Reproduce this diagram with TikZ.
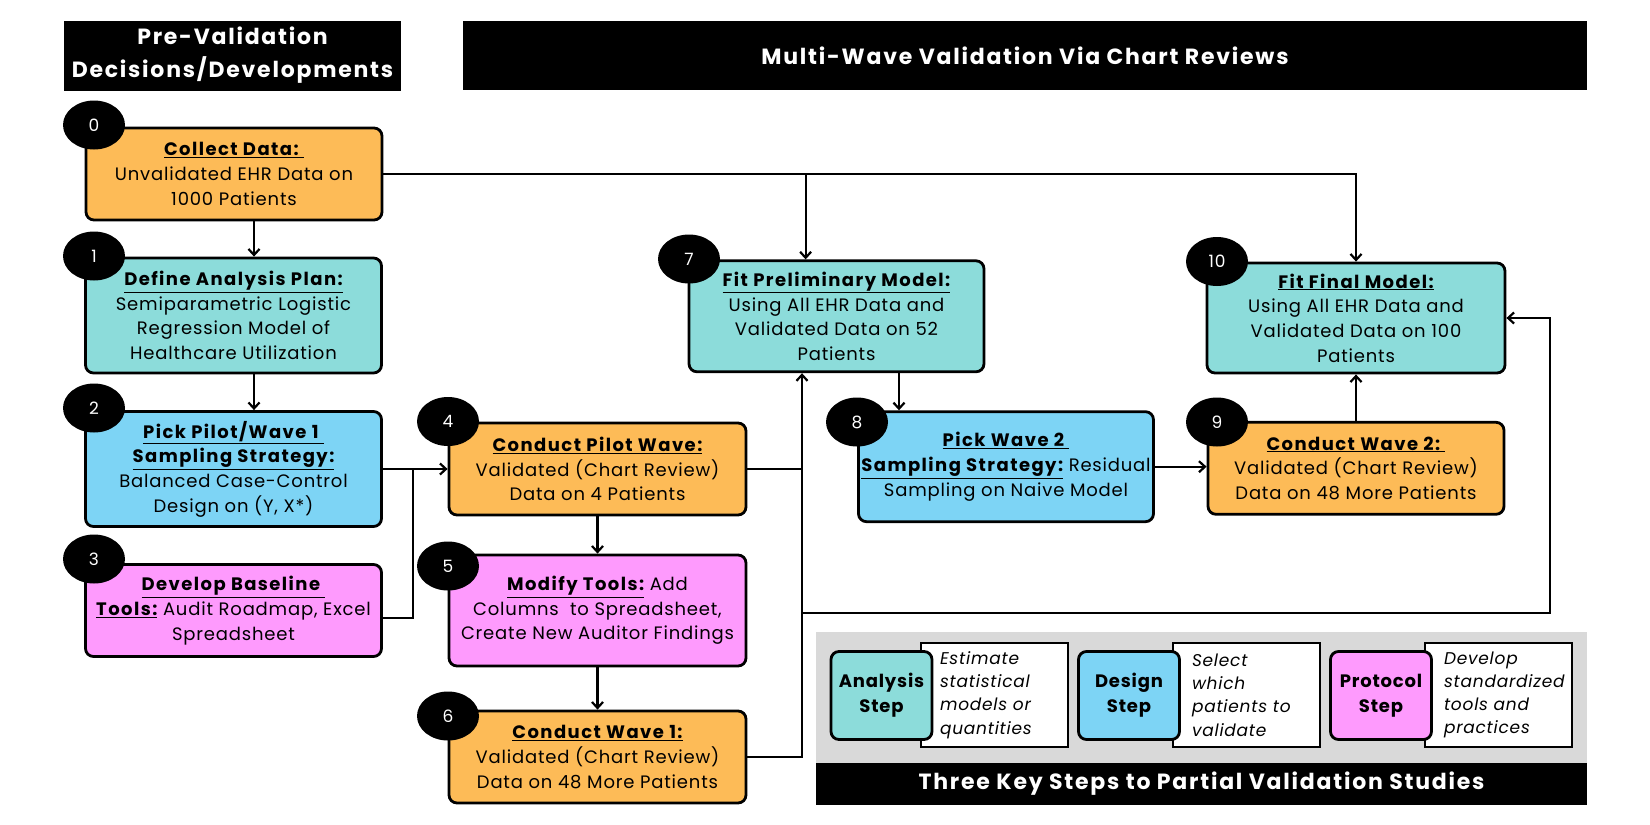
\documentclass[tikz,border=0pt]{standalone}
\usepackage{fontspec}
\setmainfont{Poppins}[LetterSpace=4.5]
\newfontfamily\widefont{Poppins}[LetterSpace=8]
\usetikzlibrary{shapes.geometric}
\usetikzlibrary{positioning}
\usetikzlibrary{arrows.meta}
\definecolor{stepo}{HTML}{FDBB57}
\definecolor{stept}{HTML}{8CDCDA}
\definecolor{stepb}{HTML}{7DD4F5}
\definecolor{stepp}{HTML}{FE9AFD}
\definecolor{keygrey}{HTML}{D9D9D9}
\newcommand{\boxhead}[1]{\underline{\widefont\bfseries #1}}
\newcommand{\nohyph}{\hyphenpenalty=10000\relax}
\tikzset{
    stepbox/.style = {rectangle, rounded corners=8pt, line width=2.8pt, draw=black, align=center, inner sep=0pt, font=\fontsize{18}{24.7}\selectfont, text=black},
    boxo/.style = {stepbox, fill=stepo},
    boxt/.style = {stepbox, fill=stept},
    boxb/.style = {stepbox, fill=stepb},
    boxp/.style = {stepbox, fill=stepp},
    numnode/.style = {ellipse, fill=black, minimum width=62pt, minimum height=49pt, inner sep=0pt, text=white, font=\fontsize{17}{20}\selectfont},
    headnode/.style = {rectangle, fill=black, text=white, align=center, inner sep=0pt, font=\widefont\bfseries\fontsize{22}{33}\selectfont},
    keynode/.style = {rectangle, rounded corners=8pt, line width=2.8pt, draw=black, align=center, inner sep=0pt, minimum width=101pt, minimum height=88pt, font=\bfseries\fontsize{18}{25}\selectfont},
    notenode/.style = {rectangle, line width=2.2pt, draw=black, fill=white, align=left, inner xsep=19pt, text width=109pt, minimum height=104pt, font=\itshape\fontsize{17}{23.2}\selectfont\nohyph},
    edgen/.style = {-, line width=2.2pt, black},
    edgea/.style = {-{Straight Barb[length=6pt,width=11pt]}, line width=2.2pt, black}
}

\begin{document}
\begin{tikzpicture}[x=1pt, y=-1pt]
  \useasboundingbox (0,0) rectangle (1650,825);
  % headers
  \node[headnode, minimum width=337pt, minimum height=70pt] (h1) at (232.5,55.5) {Pre-Validation\\Decisions/Developments};
  \node[headnode, minimum width=1124pt, minimum height=69pt] (h2) at (1025,55.5) {Multi-Wave Validation Via Chart Reviews};
  % steps
  \node[boxo, minimum width=296pt, minimum height=92pt] (b0) at (234,174) {\boxhead{Collect Data:\ }\\Unvalidated EHR Data on\\1000 Patients};
  \node[boxt, minimum width=296pt, minimum height=115pt] (b1) at (233.5,315.5) {\boxhead{Define Analysis Plan:}\\Semiparametric Logistic\\Regression Model of\\Healthcare Utilization};
  \node[boxb, minimum width=296pt, minimum height=115pt] (b2) at (233.5,469) {\boxhead{Pick Pilot/Wave 1\ }\\\boxhead{Sampling Strategy:}\\Balanced Case-Control\\Design on (Y, X*)};
  \node[boxp, minimum width=296pt, minimum height=92pt] (b3) at (233.5,610.5) {\boxhead{Develop Baseline\ }\\\boxhead{Tools:} Audit Roadmap, Excel\\Spreadsheet};
  \node[boxo, minimum width=297pt, minimum height=92pt] (b4) at (597.5,469) {\boxhead{Conduct Pilot Wave:}\\Validated (Chart Review)\\Data on 4 Patients};
  \node[boxp, minimum width=297pt, minimum height=111pt] (b5) at (597.5,610.5) {\boxhead{Modify Tools:} Add\\Columns\ \ to Spreadsheet,\\Create New Auditor Findings};
  \node[boxo, minimum width=297pt, minimum height=92pt] (b6) at (597.5,757) {\boxhead{Conduct Wave 1:}\\Validated (Chart Review)\\Data on 48 More Patients};
  \node[boxt, minimum width=295pt, minimum height=111pt] (b7) at (836.5,316.3) {\boxhead{Fit Preliminary Model:}\\Using All EHR Data and\\Validated Data on 52\\Patients};
  \node[boxb, minimum width=295pt, minimum height=110pt] (b8) at (1006,466.7) {\boxhead{Pick Wave 2\ }\\\boxhead{Sampling Strategy:} Residual\\Sampling on Naive Model};
  \node[boxo, minimum width=296pt, minimum height=92pt] (b9) at (1356,468.3) {\boxhead{Conduct Wave 2:\ }\\Validated (Chart Review)\\Data on 48 More Patients};
  \node[boxt, minimum width=298pt, minimum height=110pt] (b10) at (1356,318) {\boxhead{Fit Final Model:}\\Using All EHR Data and\\Validated Data on 100\\Patients};
  % numbers
  \node[numnode] (n0) at (94,125) {0};
  \node[numnode] (n1) at (94,256) {1};
  \node[numnode] (n2) at (94,408) {2};
  \node[numnode] (n3) at (94,559) {3};
  \node[numnode] (n4) at (448,421.5) {4};
  \node[numnode] (n5) at (448,566) {5};
  \node[numnode] (n6) at (448,716) {6};
  \node[numnode] (n7) at (689,259) {7};
  \node[numnode] (n8) at (857,422) {8};
  \node[numnode] (n9) at (1217,422) {9};
  \node[numnode] (n10) at (1217,261.5) {10};
  % junctions
  \coordinate (col1) at (254,0);
  \coordinate (jl) at (412.7,0);
  \coordinate (jr) at (802,0);
  \coordinate (j7) at (805.6,0);
  \coordinate (col8) at (899,0);
  \coordinate (jloop) at (1550,613);
  % connectors
  \draw[edgea] (b0.east) -| (b10.north);
  \draw[edgea] (b0.east -| j7) -- (b7.north -| j7);
  \draw[edgea] (b0.south -| col1) -- (b1.north -| col1);
  \draw[edgea] (b1.south -| col1) -- (b2.north -| col1);
  \draw[edgea] (b2.east) -- (b4.west);
  \draw[edgen] ([yshift=-7.5pt]b3.east) -| (b2.east -| jl);
  \draw[edgea] (b4.south) -- (b5.north);
  \draw[edgea] (b5.south) -- (b6.north);
  \draw[edgen] (b4.east) -- (b4.east -| jr);
  \draw[edgea] (b6.east) -| (b7.south -| jr);
  \draw[edgea] (jloop -| jr) -- (jloop) |- (b10.east);
  \draw[edgea] (b7.south -| col8) -- (b8.north -| col8);
  \draw[edgea] (b8.east) -- (b8.east -| b9.west);
  \draw[edgea] (b9.north) -- (b10.south);
  % key
  \node[rectangle, fill=keygrey, minimum width=771pt, minimum height=131pt, inner sep=0pt] (keybg) at (1201.5,697.5) {};
  \node[headnode, minimum width=771pt, minimum height=42pt, font=\widefont\bfseries\fontsize{22}{25}\selectfont] (keytitle) at (1201.5,784) {Three Key Steps to Partial Validation Studies};
  \node[notenode] (na) at (994.5,695) {Estimate\\statistical\\models or\\quantities};
  \node[notenode] (nd) at (1246.5,695) {Select\\which\\patients to\\validate};
  \node[notenode] (np) at (1498.5,695) {Develop\\standardized\\tools and\\practices};
  \node[keynode, fill=stept] (ka) at (881.5,695.5) {Analysis\\Step};
  \node[keynode, fill=stepb] (kd) at (1129,695.5) {Design\\Step};
  \node[keynode, fill=stepp] (kp) at (1381,695.5) {Protocol\\Step};
\end{tikzpicture}
\end{document}
